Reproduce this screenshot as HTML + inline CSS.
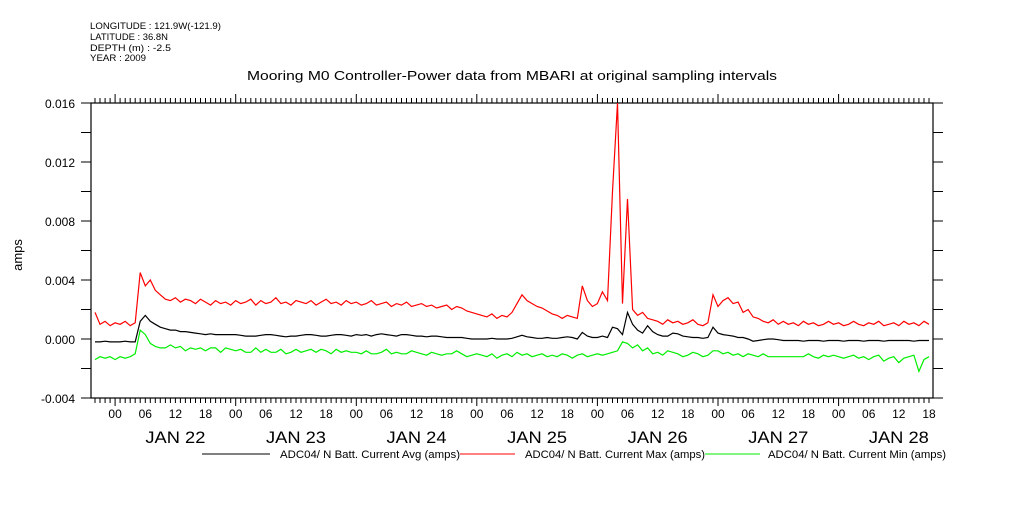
<!DOCTYPE html>
<html><head><meta charset="utf-8"><style>
body{margin:0;background:#fff;width:1009px;height:504px;overflow:hidden}
svg text{font-family:"Liberation Sans",sans-serif;fill:#000}
</style></head><body>
<svg id="c" width="1009" height="504" xmlns="http://www.w3.org/2000/svg">
<g font-size="9">
<text x="90" y="29" textLength="131" lengthAdjust="spacingAndGlyphs">LONGITUDE : 121.9W(-121.9)</text>
<text x="90" y="40" textLength="78" lengthAdjust="spacingAndGlyphs">LATITUDE : 36.8N</text>
<text x="90" y="51" textLength="81" lengthAdjust="spacingAndGlyphs">DEPTH (m) : -2.5</text>
<text x="90" y="61" textLength="56" lengthAdjust="spacingAndGlyphs">YEAR : 2009</text>
</g>
<text x="247" y="80" font-size="13" textLength="530" lengthAdjust="spacingAndGlyphs">Mooring M0 Controller-Power data from MBARI at original sampling intervals</text>
<text x="0" y="0" font-size="13" text-anchor="middle" transform="translate(22,255) rotate(-90)">amps</text>
<g id="axes"></g><g id="marks"></g>
<g font-size="11">
<line x1="202" y1="454" x2="270" y2="454" stroke="#000"/>
<text x="280" y="458" textLength="180" lengthAdjust="spacingAndGlyphs">ADC04/ N Batt. Current Avg (amps)</text>
<line x1="460" y1="454" x2="515" y2="454" stroke="#f00"/>
<text x="525" y="458" textLength="180" lengthAdjust="spacingAndGlyphs">ADC04/ N Batt. Current Max (amps)</text>
<line x1="705" y1="454" x2="760" y2="454" stroke="#0e0"/>
<text x="768" y="458" textLength="178" lengthAdjust="spacingAndGlyphs">ADC04/ N Batt. Current Min (amps)</text>
</g>
</svg>
<script>
// hourly data, hours relative to Jan 22 00:00, starting at t=-4 (values in milliamps)
const startHour = -4;
const maxSeries = [1.8,1.0,1.2,0.9,1.1,1.0,1.2,0.9,1.1,
4.5,3.6,4.0,3.3,3.0,2.7,2.6,2.8,2.5,2.7,2.6,2.4,2.7,2.5,2.3,2.6,2.4,2.5,2.3,
2.6,2.4,2.5,2.7,2.3,2.6,2.4,2.5,2.8,2.4,2.5,2.3,2.6,2.5,2.4,2.6,2.3,2.5,2.7,2.4,2.5,2.3,2.6,2.4,
2.5,2.3,2.4,2.6,2.3,2.4,2.5,2.2,2.4,2.3,2.5,2.2,2.3,2.4,2.2,2.3,2.1,2.2,2.3,2.0,2.2,2.1,1.9,1.8,
1.7,1.6,1.5,1.7,1.4,1.6,1.5,1.8,2.4,3.0,2.6,2.4,2.2,2.1,1.9,1.7,1.6,1.4,1.6,1.5,1.4,3.6,2.6,2.2,
2.4,3.2,2.6,10.0,16.0,2.4,9.5,2.0,1.6,1.8,1.4,1.3,1.2,1.0,1.3,1.1,1.2,1.0,1.1,1.3,1.0,0.9,1.1,3.0,
2.2,2.6,2.8,2.4,2.5,1.8,2.0,1.5,1.4,1.2,1.1,1.3,1.0,1.2,1.0,1.1,0.9,1.2,1.0,1.1,0.9,1.0,1.2,1.0,
1.1,0.9,1.0,1.2,1.0,0.9,1.1,1.0,1.2,0.9,1.0,1.1,0.9,1.2,1.0,1.1,0.9,1.2,1.0];
const avgSeries = [-0.2,-0.2,-0.15,-0.2,-0.2,-0.2,-0.15,-0.2,-0.2,
1.2,1.6,1.2,1.0,0.8,0.7,0.6,0.6,0.5,0.5,0.45,0.4,0.35,0.3,0.35,0.3,0.3,0.3,0.3,
0.3,0.25,0.2,0.2,0.2,0.25,0.3,0.3,0.25,0.2,0.15,0.2,0.2,0.25,0.3,0.3,0.25,0.2,0.2,0.25,0.3,0.3,0.25,0.2,
0.3,0.25,0.3,0.2,0.3,0.35,0.3,0.25,0.2,0.3,0.3,0.25,0.2,0.2,0.15,0.2,0.2,0.15,0.1,0.1,0.1,0.1,0.05,0.0,
0.0,0.0,0.0,0.05,0.0,0.0,0.0,0.05,0.15,0.25,0.15,0.1,0.05,0.05,0.1,0.05,0.05,0.1,0.15,0.1,0.0,0.45,0.2,0.1,
0.1,0.2,0.1,0.8,0.7,0.3,1.8,1.0,0.6,0.4,0.9,0.5,0.3,0.2,0.2,0.4,0.35,0.2,0.15,0.1,0.1,0.05,0.1,0.8,
0.4,0.3,0.25,0.2,0.1,0.1,0.0,-0.15,-0.1,-0.05,0.0,0.0,-0.05,-0.1,-0.1,-0.1,-0.1,-0.15,-0.1,-0.1,-0.1,-0.15,-0.1,-0.1,
-0.1,-0.15,-0.1,-0.1,-0.1,-0.15,-0.1,-0.1,-0.1,-0.15,-0.1,-0.1,-0.1,-0.1,-0.1,-0.15,-0.1,-0.1,-0.1];
const minSeries = [-1.4,-1.2,-1.3,-1.2,-1.4,-1.2,-1.3,-1.2,-1.0,
0.6,0.3,-0.3,-0.5,-0.6,-0.6,-0.4,-0.6,-0.5,-0.8,-0.6,-0.7,-0.6,-0.8,-0.6,-0.6,-0.9,-0.6,-0.7,
-0.8,-0.7,-0.9,-0.9,-0.6,-0.9,-0.7,-0.9,-0.9,-0.7,-1.0,-0.9,-0.7,-0.9,-0.8,-0.7,-0.9,-0.7,-0.8,-1.0,-0.7,-0.9,-0.8,-0.9,
-0.9,-1.0,-0.8,-1.0,-1.0,-0.9,-0.7,-1.0,-0.9,-1.0,-1.0,-0.8,-0.9,-1.0,-1.1,-0.9,-1.0,-1.1,-1.0,-1.0,-0.8,-1.0,-1.2,-1.1,
-1.0,-1.1,-1.2,-1.0,-1.3,-1.1,-1.0,-1.2,-0.9,-1.1,-1.0,-1.2,-1.1,-1.0,-1.2,-1.1,-1.2,-1.0,-1.1,-1.3,-1.1,-1.0,-1.2,-1.1,
-1.0,-1.1,-1.0,-0.9,-0.8,-0.2,-0.3,-0.6,-0.4,-0.8,-0.6,-1.0,-0.9,-1.1,-0.8,-0.9,-1.0,-1.2,-1.1,-0.9,-1.0,-1.2,-1.1,-0.8,
-0.8,-1.0,-0.9,-1.1,-1.0,-1.2,-1.0,-1.1,-1.2,-1.0,-1.2,-1.2,-1.2,-1.2,-1.2,-1.2,-1.2,-1.2,-1.0,-1.2,-1.3,-1.1,-1.2,-1.1,
-1.2,-1.3,-1.2,-1.1,-1.3,-1.2,-1.4,-1.2,-1.1,-1.5,-1.3,-1.2,-1.6,-1.3,-1.2,-1.1,-2.2,-1.4,-1.2];
const yTickLabels = ["-0.004","0.000","0.004","0.008","0.012","0.016"];
const yTickValues = [-0.004,0,0.004,0.008,0.012,0.016];
const dayLabels = ["JAN 22","JAN 23","JAN 24","JAN 25","JAN 26","JAN 27","JAN 28"];
const hourLabels = ["00","06","12","18"];

const L=91,R=933,T=103,B=398, t0=-4.8, t1=162.8;
const xS=t=>L+(t-t0)/(t1-t0)*(R-L);
const yS=v=>B-(v-(-0.004))/0.020*(B-T);
const NS="http://www.w3.org/2000/svg";
function mk(tag,attrs,parent){const e=document.createElementNS(NS,tag);for(const k in attrs)e.setAttribute(k,attrs[k]);parent.appendChild(e);return e;}
const ax=document.getElementById('axes'), mg=document.getElementById('marks');
const frame=mk('rect',{x:L,y:T,width:R-L,height:B-T,fill:'none',stroke:'#000','stroke-width':1.2},ax);


let tk='';
for(let h=Math.ceil(t0);h<=t1;h++){const x=xS(h).toFixed(1);const day=((h%24)+24)%24===0;
 tk+=`M${x} ${T}V${T-(day?9:5)}M${x} ${B}V${B+(day?8:5)}`;
 if(((h%6)+6)%6===0){const lab=mk('text',{x:x,y:B+20,'font-size':12,'text-anchor':'middle'},ax);lab.textContent=hourLabels[(((h%24)+24)%24)/6];
 
 }
}
for(let v=-0.004;v<=0.0161;v+=0.002){const y=yS(v).toFixed(1);tk+=`M${L} ${y}H${L-10}M${R} ${y}H${R+10}`;}
const tp=mk('path',{d:tk,stroke:'#000','stroke-width':1,fill:'none'},ax);


yTickValues.forEach((v,i)=>{const t=mk('text',{x:75,y:yS(v)+5,'font-size':12,'text-anchor':'end'},ax);t.textContent=yTickLabels[i];
 
 });
dayLabels.forEach((d,i)=>{const t=mk('text',{x:xS(i*24+12)-30,y:443,'font-size':17,textLength:60,lengthAdjust:'spacingAndGlyphs'},ax);t.textContent=d;
 
 });
function draw(arr,color,name){let d='';arr.forEach((v,i)=>{const h=startHour+i;const x=xS(Math.min(Math.max(h,t0),t1)),y=yS(v/1000);
 d+=(i?'L':'M')+x.toFixed(1)+' '+y.toFixed(1);});
 const p=mk('path',{d:d,stroke:color,'stroke-width':1.2,fill:'none','stroke-linejoin':'miter'},mg);
 
 }
draw(maxSeries,'#f00','series-max');
draw(minSeries,'#0e0','series-min');
draw(avgSeries,'#000','series-avg');
</script>
</body></html>
